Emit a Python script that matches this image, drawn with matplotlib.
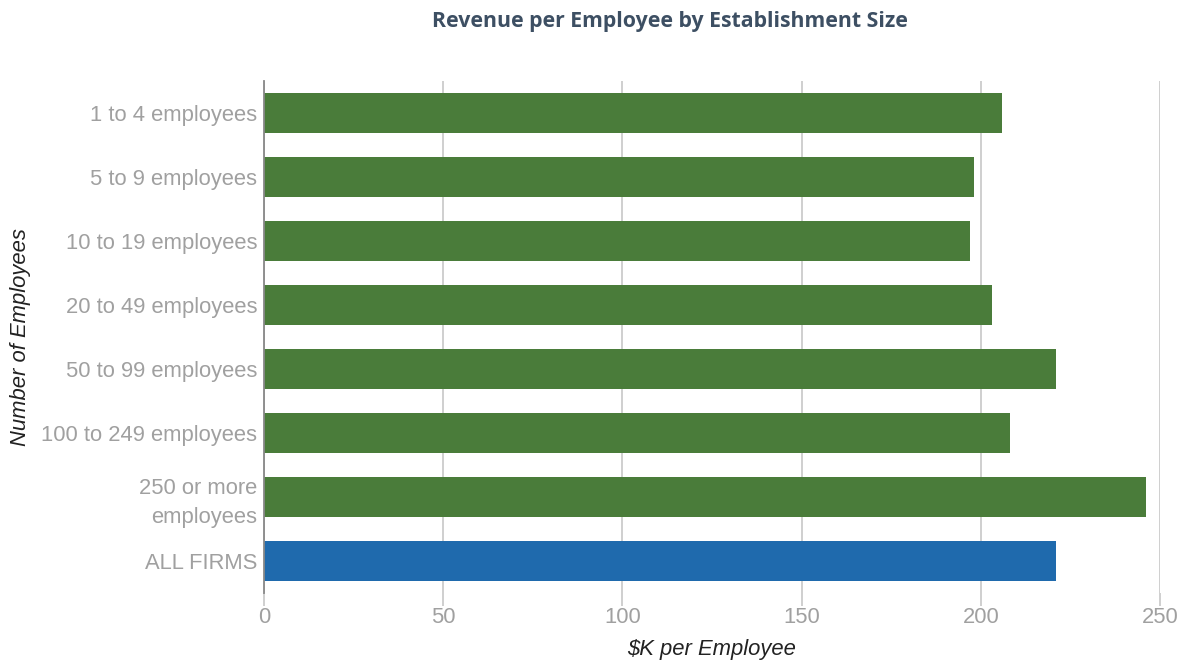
import matplotlib.pyplot as plt

plt.rcParams['font.family'] = ['Liberation Sans', 'DejaVu Sans']

# revenue per employee, $K
sizes = ['1 to 4 employees', '5 to 9 employees', '10 to 19 employees',
         '20 to 49 employees', '50 to 99 employees', '100 to 249 employees',
         '250 or more\nemployees', 'ALL FIRMS']
revenue = [205.9, 198.1, 197.0, 203.1, 221.0, 208.1, 246.2, 221.0]
colors = ['#4a7c3a'] * 7 + ['#1f6aad']
xticks = [0, 50, 100, 150, 200, 250]

fig = plt.figure(figsize=(11.81, 6.62), dpi=100)
ax = fig.add_axes([264/1181, 1 - 593/662, 896/1181, 512/662])

ypos = list(range(len(sizes)))
ax.barh(ypos, revenue, height=0.625, color=colors, zorder=3)
ax.set_ylim(len(sizes) - 0.5, -0.5)
ax.set_xlim(0, 250)

ax.set_yticks(ypos)
ax.set_yticklabels(sizes, fontsize=15.8, color='#a0a0a0', linespacing=1.45)
ax.set_xticks(xticks)
ax.set_xticklabels([str(t) for t in xticks], fontsize=15.8, color='#a0a0a0')

ax.grid(axis='x', color='#cccccc', linewidth=1.3, zorder=0)
for s in ['top', 'right', 'bottom']:
    ax.spines[s].set_visible(False)
ax.spines['left'].set_color('#888888')
ax.spines['left'].set_linewidth(1.3)
ax.spines['left'].set_zorder(4)
ax.tick_params(axis='y', length=0, pad=5)
ax.tick_params(axis='x', length=9, color='#cccccc', width=1.3, pad=1)

ax.set_xlabel('$K per Employee', fontsize=15.8, style='italic', color='#222222', labelpad=8)
ax.set_ylabel('Number of Employees', fontsize=15.8, style='italic', color='#222222')
ax.yaxis.set_label_coords(-(264 - 31) / 896, 0.5)

fig.text(670/1181, 1 - 21/662, 'Revenue per Employee by Establishment Size',
         ha='center', va='center', fontsize=15.3, fontweight='bold',
         color='#3d4f63', family=['Open Sans', 'DejaVu Sans'])

fig.savefig('out.png', dpi=100)
